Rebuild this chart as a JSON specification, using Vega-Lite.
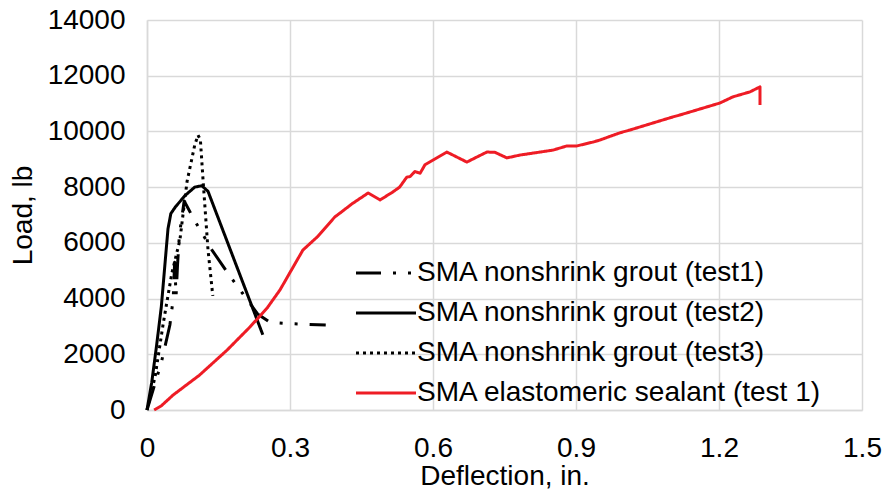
{
  "$schema": "https://vega.github.io/schema/vega-lite/v6.json",
  "autosize": {"type": "none"},
  "padding": {"left": 147, "top": 20, "right": 23, "bottom": 83},
  "width": 715,
  "height": 390,
  "background": "white",
  "config": {
    "font": "Liberation Sans",
    "view": {"stroke": null},
    "axis": {
      "gridColor": "#d9d9d9",
      "gridWidth": 1.5,
      "domainColor": "#d9d9d9",
      "domainWidth": 1.5,
      "ticks": false,
      "labelFont": "Liberation Sans",
      "titleFont": "Liberation Sans",
      "labelFontSize": 28,
      "titleFontSize": 28,
      "labelColor": "black",
      "titleColor": "black",
      "titleFontWeight": "normal",
      "labelFlush": false
    },
    "legend": {
      "labelFont": "Liberation Sans",
      "labelFontSize": 28,
      "labelColor": "black",
      "labelLimit": 0
    }
  },
  "data": {
    "values": [
      {"s": "SMA nonshrink grout (test1)", "i": 0, "x": 0, "y": 0},
      {"s": "SMA nonshrink grout (test1)", "i": 1, "x": 0.03, "y": 1700},
      {"s": "SMA nonshrink grout (test1)", "i": 2, "x": 0.048, "y": 3050},
      {"s": "SMA nonshrink grout (test1)", "i": 3, "x": 0.055, "y": 4000},
      {"s": "SMA nonshrink grout (test1)", "i": 4, "x": 0.058, "y": 5300},
      {"s": "SMA nonshrink grout (test1)", "i": 5, "x": 0.061, "y": 4100},
      {"s": "SMA nonshrink grout (test1)", "i": 6, "x": 0.064, "y": 5200},
      {"s": "SMA nonshrink grout (test1)", "i": 7, "x": 0.068, "y": 6300},
      {"s": "SMA nonshrink grout (test1)", "i": 8, "x": 0.078, "y": 7500},
      {"s": "SMA nonshrink grout (test1)", "i": 9, "x": 0.1, "y": 6800},
      {"s": "SMA nonshrink grout (test1)", "i": 10, "x": 0.136, "y": 5750},
      {"s": "SMA nonshrink grout (test1)", "i": 11, "x": 0.17, "y": 4900},
      {"s": "SMA nonshrink grout (test1)", "i": 12, "x": 0.2, "y": 4200},
      {"s": "SMA nonshrink grout (test1)", "i": 13, "x": 0.232, "y": 3450},
      {"s": "SMA nonshrink grout (test1)", "i": 14, "x": 0.258, "y": 3150},
      {"s": "SMA nonshrink grout (test1)", "i": 15, "x": 0.3, "y": 3100},
      {"s": "SMA nonshrink grout (test1)", "i": 16, "x": 0.375, "y": 3050},
      {"s": "SMA nonshrink grout (test2)", "i": 0, "x": 0, "y": 0},
      {"s": "SMA nonshrink grout (test2)", "i": 1, "x": 0.01, "y": 1000},
      {"s": "SMA nonshrink grout (test2)", "i": 2, "x": 0.02, "y": 2300},
      {"s": "SMA nonshrink grout (test2)", "i": 3, "x": 0.03, "y": 3700},
      {"s": "SMA nonshrink grout (test2)", "i": 4, "x": 0.038, "y": 5300},
      {"s": "SMA nonshrink grout (test2)", "i": 5, "x": 0.044, "y": 6500},
      {"s": "SMA nonshrink grout (test2)", "i": 6, "x": 0.05, "y": 7050},
      {"s": "SMA nonshrink grout (test2)", "i": 7, "x": 0.06, "y": 7300},
      {"s": "SMA nonshrink grout (test2)", "i": 8, "x": 0.08, "y": 7700},
      {"s": "SMA nonshrink grout (test2)", "i": 9, "x": 0.1, "y": 8000},
      {"s": "SMA nonshrink grout (test2)", "i": 10, "x": 0.115, "y": 8050},
      {"s": "SMA nonshrink grout (test2)", "i": 11, "x": 0.128, "y": 7850},
      {"s": "SMA nonshrink grout (test2)", "i": 12, "x": 0.243, "y": 2700},
      {"s": "SMA nonshrink grout (test3)", "i": 0, "x": 0, "y": 0},
      {"s": "SMA nonshrink grout (test3)", "i": 1, "x": 0.017, "y": 1200},
      {"s": "SMA nonshrink grout (test3)", "i": 2, "x": 0.034, "y": 3100},
      {"s": "SMA nonshrink grout (test3)", "i": 3, "x": 0.052, "y": 4900},
      {"s": "SMA nonshrink grout (test3)", "i": 4, "x": 0.069, "y": 6100},
      {"s": "SMA nonshrink grout (test3)", "i": 5, "x": 0.084, "y": 8200},
      {"s": "SMA nonshrink grout (test3)", "i": 6, "x": 0.1, "y": 9500},
      {"s": "SMA nonshrink grout (test3)", "i": 7, "x": 0.107, "y": 9870},
      {"s": "SMA nonshrink grout (test3)", "i": 8, "x": 0.112, "y": 9700},
      {"s": "SMA nonshrink grout (test3)", "i": 9, "x": 0.118, "y": 8150},
      {"s": "SMA nonshrink grout (test3)", "i": 10, "x": 0.128, "y": 5750},
      {"s": "SMA nonshrink grout (test3)", "i": 11, "x": 0.138, "y": 4100},
      {"s": "SMA elastomeric sealant (test 1)", "i": 0, "x": 0.015, "y": 0},
      {"s": "SMA elastomeric sealant (test 1)", "i": 1, "x": 0.03, "y": 150},
      {"s": "SMA elastomeric sealant (test 1)", "i": 2, "x": 0.055, "y": 540},
      {"s": "SMA elastomeric sealant (test 1)", "i": 3, "x": 0.11, "y": 1250},
      {"s": "SMA elastomeric sealant (test 1)", "i": 4, "x": 0.168, "y": 2150},
      {"s": "SMA elastomeric sealant (test 1)", "i": 5, "x": 0.216, "y": 2980},
      {"s": "SMA elastomeric sealant (test 1)", "i": 6, "x": 0.252, "y": 3660},
      {"s": "SMA elastomeric sealant (test 1)", "i": 7, "x": 0.279, "y": 4310},
      {"s": "SMA elastomeric sealant (test 1)", "i": 8, "x": 0.327, "y": 5740},
      {"s": "SMA elastomeric sealant (test 1)", "i": 9, "x": 0.357, "y": 6210},
      {"s": "SMA elastomeric sealant (test 1)", "i": 10, "x": 0.394, "y": 6930},
      {"s": "SMA elastomeric sealant (test 1)", "i": 11, "x": 0.405, "y": 7070},
      {"s": "SMA elastomeric sealant (test 1)", "i": 12, "x": 0.43, "y": 7400},
      {"s": "SMA elastomeric sealant (test 1)", "i": 13, "x": 0.464, "y": 7790},
      {"s": "SMA elastomeric sealant (test 1)", "i": 14, "x": 0.489, "y": 7540},
      {"s": "SMA elastomeric sealant (test 1)", "i": 15, "x": 0.516, "y": 7830},
      {"s": "SMA elastomeric sealant (test 1)", "i": 16, "x": 0.53, "y": 8000},
      {"s": "SMA elastomeric sealant (test 1)", "i": 17, "x": 0.545, "y": 8360},
      {"s": "SMA elastomeric sealant (test 1)", "i": 18, "x": 0.552, "y": 8380},
      {"s": "SMA elastomeric sealant (test 1)", "i": 19, "x": 0.562, "y": 8560},
      {"s": "SMA elastomeric sealant (test 1)", "i": 20, "x": 0.573, "y": 8500},
      {"s": "SMA elastomeric sealant (test 1)", "i": 21, "x": 0.583, "y": 8800},
      {"s": "SMA elastomeric sealant (test 1)", "i": 22, "x": 0.629, "y": 9260},
      {"s": "SMA elastomeric sealant (test 1)", "i": 23, "x": 0.671, "y": 8900},
      {"s": "SMA elastomeric sealant (test 1)", "i": 24, "x": 0.713, "y": 9260},
      {"s": "SMA elastomeric sealant (test 1)", "i": 25, "x": 0.73, "y": 9250},
      {"s": "SMA elastomeric sealant (test 1)", "i": 26, "x": 0.755, "y": 9050},
      {"s": "SMA elastomeric sealant (test 1)", "i": 27, "x": 0.782, "y": 9150},
      {"s": "SMA elastomeric sealant (test 1)", "i": 28, "x": 0.852, "y": 9330},
      {"s": "SMA elastomeric sealant (test 1)", "i": 29, "x": 0.881, "y": 9480},
      {"s": "SMA elastomeric sealant (test 1)", "i": 30, "x": 0.902, "y": 9480},
      {"s": "SMA elastomeric sealant (test 1)", "i": 31, "x": 0.936, "y": 9620},
      {"s": "SMA elastomeric sealant (test 1)", "i": 32, "x": 0.95, "y": 9690},
      {"s": "SMA elastomeric sealant (test 1)", "i": 33, "x": 0.992, "y": 9950},
      {"s": "SMA elastomeric sealant (test 1)", "i": 34, "x": 1.013, "y": 10050},
      {"s": "SMA elastomeric sealant (test 1)", "i": 35, "x": 1.103, "y": 10520},
      {"s": "SMA elastomeric sealant (test 1)", "i": 36, "x": 1.118, "y": 10590},
      {"s": "SMA elastomeric sealant (test 1)", "i": 37, "x": 1.202, "y": 11020},
      {"s": "SMA elastomeric sealant (test 1)", "i": 38, "x": 1.229, "y": 11240},
      {"s": "SMA elastomeric sealant (test 1)", "i": 39, "x": 1.265, "y": 11420},
      {"s": "SMA elastomeric sealant (test 1)", "i": 40, "x": 1.286, "y": 11600},
      {"s": "SMA elastomeric sealant (test 1)", "i": 41, "x": 1.286, "y": 10950}
    ]
  },
  "mark": {"type": "line", "strokeWidth": 3, "strokeCap": "butt", "strokeJoin": "round"},
  "encoding": {
    "x": {
      "field": "x", "type": "quantitative",
      "scale": {"domain": [0, 1.5], "nice": false},
      "axis": {
        "values": [0, 0.3, 0.6, 0.9, 1.2, 1.5],
        "labelExpr": "datum.value == 0 ? '0' : format(datum.value, '.1f')",
        "title": "Deflection, in.",
        "labelPadding": 24,
        "titlePadding": 0
      }
    },
    "y": {
      "field": "y", "type": "quantitative",
      "scale": {"domain": [0, 14000], "nice": false},
      "axis": {
        "values": [0, 2000, 4000, 6000, 8000, 10000, 12000, 14000],
        "format": "d",
        "title": "Load, lb",
        "labelPadding": 22,
        "titlePadding": 10
      }
    },
    "order": {"field": "i", "type": "quantitative"},
    "color": {
      "field": "s", "type": "nominal",
      "scale": {
        "domain": ["SMA nonshrink grout (test1)", "SMA nonshrink grout (test2)", "SMA nonshrink grout (test3)", "SMA elastomeric sealant (test 1)"],
        "range": ["#000000", "#000000", "#000000", "#ee1c25"]
      },
      "legend": {
        "title": null,
        "orient": "none",
        "legendX": 225,
        "legendY": 239,
        "padding": 0,
        "symbolType": "M-3,0H3",
        "symbolSize": 400,
        "symbolStrokeWidth": 3,
        "labelOffset": 17,
        "rowPadding": 12
      }
    },
    "strokeDash": {
      "field": "s", "type": "nominal",
      "scale": {
        "domain": ["SMA nonshrink grout (test1)", "SMA nonshrink grout (test2)", "SMA nonshrink grout (test3)", "SMA elastomeric sealant (test 1)"],
        "range": [[25, 12, 3, 12, 3, 12], [1, 0], [3, 4], [1, 0]]
      },
      "legend": {
        "title": null,
        "orient": "none",
        "legendX": 225,
        "legendY": 239,
        "padding": 0,
        "symbolType": "M-3,0H3",
        "symbolSize": 400,
        "symbolStrokeWidth": 3,
        "labelOffset": 17,
        "rowPadding": 12
      }
    }
  }
}
